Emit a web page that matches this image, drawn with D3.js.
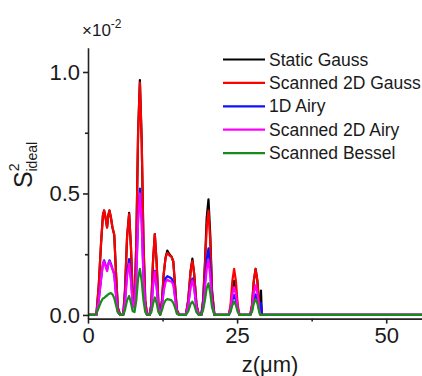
<!DOCTYPE html>
<html>
<head>
<meta charset="utf-8">
<script src="https://cdn.jsdelivr.net/npm/d3@7"></script>
<style>
  body { margin: 0; background: #fff; }
  svg { display: block; font-family: "Liberation Sans", Arial, sans-serif; }
  .axis path, .axis line { stroke: #222; stroke-width: 1.6; }
  .axis text { fill: #1a1a1a; font-size: 22px; }
</style>
</head>
<body>
<svg id="chart" width="422" height="376"></svg>
<script>
// z positions (um) shared by all series
const zPos = [0, 1.0, 1.4, 1.8, 2.2, 2.5, 2.7, 2.95, 3.2, 3.4, 3.6, 3.85, 4.1, 4.4, 4.7, 5.0, 5.4,
  5.9, 6.2, 6.55, 6.9, 7.2, 7.5, 7.8, 8.1, 8.4, 8.7, 9.0, 9.3, 9.6, 9.9,
  10.3, 10.6, 10.9, 11.2, 11.5, 11.8, 12.1, 12.4, 12.7, 13.0, 13.3, 13.65, 14.0, 14.3, 14.6, 14.9, 15.3,
  16.4, 16.8, 17.2, 17.5, 17.8, 18.2, 18.6,
  19.0, 19.3, 19.6, 19.9, 20.2, 20.5, 20.8, 21.2,
  23.6, 23.9, 24.2, 24.5, 24.8, 25.1, 25.4,
  27.2, 27.5, 27.8, 28.1, 28.4, 28.7, 28.85, 29.0, 29.15, 56];

// S^2 ideal values, x10^-2
const staticGauss = [0, 0, 0, 0.12, 0.30, 0.41, 0.43, 0.40, 0.36, 0.41, 0.43, 0.40, 0.36, 0.33, 0.17, 0.03, 0,
  0, 0.10, 0.32, 0.42, 0.28, 0.08, 0.04, 0.30, 0.75, 0.967, 0.72, 0.30, 0.06, 0,
  0, 0.04, 0.22, 0.333, 0.22, 0.05, 0.005, 0.06, 0.17, 0.235, 0.265, 0.25, 0.24, 0.22, 0.12, 0.02, 0,
  0, 0.06, 0.18, 0.232, 0.17, 0.04, 0,
  0, 0.06, 0.21, 0.40, 0.476, 0.33, 0.10, 0,
  0, 0.03, 0.10, 0.14, 0.10, 0.03, 0,
  0, 0.04, 0.14, 0.19, 0.14, 0.04, 0.02, 0.10, 0, 0];
const scannedGauss = [0, 0, 0, 0.12, 0.30, 0.41, 0.43, 0.40, 0.36, 0.41, 0.43, 0.40, 0.36, 0.33, 0.17, 0.03, 0,
  0, 0.10, 0.32, 0.415, 0.28, 0.08, 0.04, 0.30, 0.75, 0.956, 0.72, 0.30, 0.06, 0,
  0, 0.04, 0.22, 0.333, 0.22, 0.05, 0.005, 0.06, 0.17, 0.235, 0.256, 0.245, 0.24, 0.22, 0.12, 0.02, 0,
  0, 0.06, 0.18, 0.222, 0.17, 0.04, 0,
  0, 0.06, 0.20, 0.36, 0.43, 0.30, 0.09, 0,
  0, 0.04, 0.14, 0.19, 0.14, 0.04, 0,
  0, 0.04, 0.14, 0.19, 0.14, 0.04, 0.005, 0, 0, 0];
const airy1D = [0, 0, 0, 0.06, 0.15, 0.21, 0.225, 0.205, 0.185, 0.21, 0.225, 0.21, 0.19, 0.17, 0.085, 0.015, 0,
  0, 0.055, 0.175, 0.23, 0.15, 0.045, 0.03, 0.165, 0.40, 0.52, 0.39, 0.16, 0.03, 0,
  0, 0.02, 0.12, 0.182, 0.12, 0.03, 0, 0.04, 0.105, 0.15, 0.16, 0.155, 0.15, 0.135, 0.075, 0.012, 0,
  0, 0.04, 0.12, 0.15, 0.115, 0.025, 0,
  0, 0.04, 0.13, 0.23, 0.274, 0.19, 0.06, 0,
  0, 0.018, 0.06, 0.082, 0.06, 0.018, 0,
  0, 0.018, 0.063, 0.085, 0.063, 0.02, 0.02, 0.05, 0, 0];
const scannedAiry = [0, 0, 0, 0.06, 0.15, 0.21, 0.22, 0.20, 0.18, 0.21, 0.22, 0.205, 0.19, 0.165, 0.08, 0.015, 0,
  0, 0.05, 0.16, 0.21, 0.14, 0.045, 0.03, 0.16, 0.39, 0.50, 0.38, 0.16, 0.03, 0,
  0, 0.02, 0.12, 0.178, 0.12, 0.03, 0, 0.035, 0.10, 0.135, 0.145, 0.14, 0.137, 0.125, 0.07, 0.012, 0,
  0, 0.04, 0.115, 0.142, 0.11, 0.025, 0,
  0, 0.03, 0.11, 0.19, 0.226, 0.16, 0.05, 0,
  0, 0.025, 0.085, 0.115, 0.085, 0.025, 0,
  0, 0.025, 0.09, 0.122, 0.09, 0.025, 0.005, 0, 0, 0];
const scannedBessel = [0, 0, 0.005, 0.03, 0.055, 0.068, 0.07, 0.076, 0.08, 0.085, 0.088, 0.09, 0.085, 0.07, 0.04, 0.01, 0,
  0, 0.02, 0.06, 0.078, 0.05, 0.015, 0.012, 0.06, 0.15, 0.19, 0.14, 0.06, 0.012, 0,
  0, 0.01, 0.045, 0.072, 0.05, 0.012, 0, 0.02, 0.045, 0.06, 0.065, 0.063, 0.06, 0.05, 0.03, 0.005, 0,
  0, 0.015, 0.045, 0.055, 0.042, 0.01, 0,
  0, 0.02, 0.06, 0.11, 0.13, 0.09, 0.03, 0,
  0, 0.012, 0.04, 0.055, 0.04, 0.012, 0,
  0, 0.013, 0.048, 0.065, 0.048, 0.013, 0, 0, 0, 0];

const seriesNames = ['Static Gauss', 'Scanned 2D Gauss', '1D Airy', 'Scanned 2D Airy', 'Scanned Bessel'];
const seriesValues = [staticGauss, scannedGauss, airy1D, scannedAiry, scannedBessel];
const seriesColors = ['#000000', '#ff0000', '#1010ff', '#ff00ff', '#1a8a1a'];

const xTicks = [0, 25, 50];
const xMinorTicks = [12.5, 37.5];
const yTicks = [0, 0.5, 1.0];
const yMinorTicks = [0.25, 0.75];

const svg = d3.select('#chart');
const plotLeft = 88, plotRight = 422, plotTop = 47.7, plotBottom = 318.6;

const x = d3.scaleLinear().domain([0, 56]).range([plotLeft, plotRight]);
const y = d3.scaleLinear().domain([-0.015, 1.1]).range([plotBottom, plotTop]);

// minor ticks first, under the axes
svg.append('g').attr('class', 'axis')
  .attr('transform', `translate(0,${plotBottom})`)
  .call(d3.axisBottom(x).tickValues(xMinorTicks).tickSize(3).tickFormat(''))
  .select('.domain').remove();
svg.append('g').attr('class', 'axis')
  .attr('transform', `translate(${plotLeft},0)`)
  .call(d3.axisLeft(y).tickValues(yMinorTicks).tickSize(3).tickFormat(''))
  .select('.domain').remove();

// curves
const line = d3.line()
  .x((d, i) => x(zPos[i]))
  .y(d => y(d));

svg.append('g')
  .selectAll('path')
  .data(seriesValues)
  .join('path')
  .attr('d', line)
  .attr('fill', 'none')
  .attr('stroke', (d, i) => seriesColors[i])
  .attr('stroke-width', 2.2)
  .attr('stroke-linejoin', 'round');

// axes
svg.append('g').attr('class', 'axis')
  .attr('transform', `translate(0,${plotBottom})`)
  .call(d3.axisBottom(x).tickValues(xTicks).tickSize(5).tickSizeOuter(0).tickPadding(4));
svg.append('g').attr('class', 'axis')
  .attr('transform', `translate(${plotLeft},0)`)
  .call(d3.axisLeft(y).tickValues(yTicks).tickSize(5).tickSizeOuter(0).tickPadding(3)
    .tickFormat(d3.format('.1f')));

// axis titles
svg.append('text')
  .attr('x', 270).attr('y', 372)
  .attr('text-anchor', 'middle')
  .attr('font-size', 22).attr('fill', '#1a1a1a')
  .text('z(μm)');

const yTitle = svg.append('text')
  .attr('transform', 'translate(32,188) rotate(-90)')
  .attr('fill', '#1a1a1a');
yTitle.append('tspan').attr('font-size', 25).text('S');
yTitle.append('tspan').attr('font-size', 14).attr('dy', -13).text('2');
yTitle.append('tspan').attr('font-size', 14).attr('dx', -8).attr('dy', 18).text('ideal');

// x10^-2 multiplier
const mult = svg.append('text')
  .attr('x', 82).attr('y', 36)
  .attr('fill', '#1a1a1a');
mult.append('tspan').attr('font-size', 17).text('×10');
mult.append('tspan').attr('font-size', 12).attr('dy', -8).text('-2');

// legend
const legend = svg.append('g')
  .selectAll('g')
  .data(seriesNames)
  .join('g')
  .attr('transform', (d, i) => `translate(223,${59.5 + i * 23.4})`);
legend.append('line')
  .attr('x1', 0).attr('x2', 42)
  .attr('stroke', (d, i) => seriesColors[i])
  .attr('stroke-width', 2.2);
legend.append('text')
  .attr('x', 46).attr('dy', '0.35em')
  .attr('font-size', 17.5).attr('fill', '#1a1a1a')
  .text(d => d);
</script>
</body>
</html>
